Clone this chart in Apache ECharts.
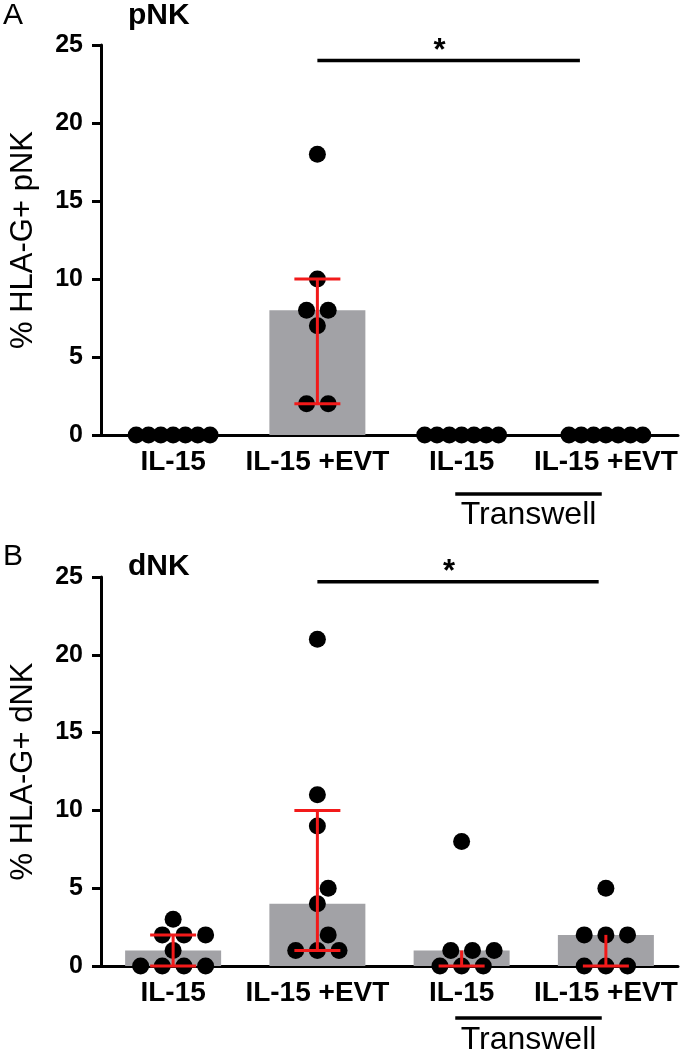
<!DOCTYPE html>
<html><head><meta charset="utf-8">
<script src="https://cdn.jsdelivr.net/npm/echarts@6/dist/echarts.min.js"></script>
<style>html,body{margin:0;padding:0;background:#fff}#c{width:680px;height:1051px}</style>
</head><body><div id="c"></div>
<script>
// ---------- data ----------
const categories = ['IL-15', 'IL-15 +EVT', 'IL-15', 'IL-15 +EVT'];
const pnkIL15      = [0, 0, 0, 0, 0, 0, 0];
const pnkIL15EVT   = [18, 10, 8, 8, 7, 2, 2];
const pnkTwIL15    = [0, 0, 0, 0, 0, 0, 0];
const pnkTwIL15EVT = [0, 0, 0, 0, 0, 0, 0];
const dnkIL15      = [3, 2, 2, 2, 1, 0, 0, 0, 0];
const dnkIL15EVT   = [21, 11, 9, 5, 4, 2, 1, 1, 1];
const dnkTwIL15    = [8, 1, 1, 1, 0, 0, 0];
const dnkTwIL15EVT = [5, 2, 2, 2, 0, 0, 0];
const panelLetters = ['A', 'B'];
const panelTitles = ['pNK', 'dNK'];
const yTitles = ['% HLA-G+ pNK', '% HLA-G+ dNK'];
const sigLabel = '*';
const sigFromCat = [1, 1];        // comparison bracket starts at category 1
const sigToX = [3.32, 3.45];      // ends (category-band units)
const sigY = [24, 24.7];
const groupLabel = 'Transwell';
// -----------------------------------------------------

const FONT = 'Liberation Sans, Arial, sans-serif';
const GL = 92, GW = 586;
const grids = [
  { top: 45, h: 390, letterTop: 1, titleTop: 1, lineOff: 59, textOff: 80 },
  { top: 577, h: 389, letterTop: 542, titleTop: 552, lineOff: 52, textOff: 74 }
];
const panels = [
  [pnkIL15, pnkIL15EVT, pnkTwIL15, pnkTwIL15EVT],
  [dnkIL15, dnkIL15EVT, dnkTwIL15, dnkTwIL15EVT]
];
const BAND = GW / 4;
const DOT = 17, STEP = 22, MAXW = 92;

function quant(s, p) {
  const n = s.length, pos = p * (n + 1);
  if (pos <= 1) return s[0];
  if (pos >= n) return s[n - 1];
  const lo = Math.floor(pos), f = pos - lo;
  return s[lo - 1] + f * (s[lo] - s[lo - 1]);
}

function swarm(values, pxY) {
  const s = values.slice().sort((a, b) => a - b);
  const rows = [];
  s.forEach(v => {
    const r = rows[rows.length - 1];
    if (r && (v - r.v0) * pxY < DOT * 0.5) r.vals.push(v);
    else rows.push({ v0: v, vals: [v] });
  });
  const placed = [];
  rows.forEach(r => {
    const n = r.vals.length;
    const sp = n > 1 ? Math.min(STEP, (MAXW - DOT) / (n - 1)) : 0;
    const base = r.vals.map((v, k) => (k - (n - 1) / 2) * sp);
    const shifts = [0, STEP / 2, -STEP / 2, STEP, -STEP, 1.5 * STEP, -1.5 * STEP];
    let chosen = 0;
    for (const sh of shifts) {
      const ok = r.vals.every((v, k) => placed.every(p => {
        const dx = base[k] + sh - p[0], dy = (v - p[1]) * pxY;
        return Math.sqrt(dx * dx + dy * dy) >= DOT - 0.5;
      }));
      if (ok) { chosen = sh; break; }
    }
    r.vals.forEach((v, k) => placed.push([base[k] + chosen, v]));
  });
  return placed;
}

const grid = [], xAxis = [], yAxis = [], series = [];
panels.forEach((groups, pi) => {
  const g = grids[pi];
  grid.push({ left: GL, top: g.top, width: GW, height: g.h, containLabel: false });
  xAxis.push({
    type: 'category', gridIndex: pi, data: categories,
    axisLine: { lineStyle: { color: '#000', width: 3 } },
    axisTick: { alignWithLabel: true, length: 9, lineStyle: { color: '#000', width: 3 } },
    axisLabel: { color: '#000', fontSize: 28, fontWeight: 'bold', fontFamily: FONT, margin: 13, interval: 0 },
    splitLine: { show: false }
  });
  xAxis.push({ type: 'value', gridIndex: pi, min: 0, max: 4, show: false });
  yAxis.push({
    type: 'value', gridIndex: pi, min: 0, max: 25, interval: 5,
    name: yTitles[pi], nameLocation: 'middle', nameGap: 62, nameRotate: 90,
    nameTextStyle: { color: '#000', fontSize: 31, fontFamily: FONT },
    axisLine: { show: true, lineStyle: { color: '#000', width: 3 } },
    axisTick: { show: true, length: 9, lineStyle: { color: '#000', width: 3 } },
    axisLabel: { color: '#000', fontSize: 25, fontWeight: 'bold', fontFamily: FONT, margin: 18 },
    splitLine: { show: false }
  });
  const pxY = g.h / 25;
  const medians = [], errs = [], pts = [];
  groups.forEach((vals, ci) => {
    const s = vals.slice().sort((a, b) => a - b);
    const md = quant(s, 0.5), q1 = quant(s, 0.25), q3 = quant(s, 0.75);
    medians.push(md);
    errs.push([ci + 0.5, q1, q3, md]);
    swarm(vals, pxY).forEach(p => pts.push([ci + 0.5 + p[0] / BAND, p[1]]));
  });
  series.push({
    type: 'bar', xAxisIndex: pi * 2, yAxisIndex: pi, data: medians,
    barWidth: 96, itemStyle: { color: '#a2a2a6' }, z: 1, silent: true
  });
  series.push({
    type: 'scatter', xAxisIndex: pi * 2 + 1, yAxisIndex: pi, data: pts,
    symbol: 'circle', symbolSize: DOT, itemStyle: { color: '#000', opacity: 1 }, z: 3, silent: true
  });
  series.push({
    type: 'custom', xAxisIndex: pi * 2 + 1, yAxisIndex: pi, data: errs, z: 4, silent: true,
    renderItem: (params, api) => {
      const x = api.value(0), lo = api.value(1), hi = api.value(2), md = api.value(3);
      if (hi === lo) return null;
      const a = api.coord([x, lo]), b = api.coord([x, hi]);
      const st = { stroke: '#f21a1a', lineWidth: 3 };
      const ch = [{ type: 'line', shape: { x1: a[0], y1: a[1], x2: b[0], y2: b[1] }, style: st }];
      if (lo < md) ch.push({ type: 'line', shape: { x1: a[0] - 23, y1: a[1], x2: a[0] + 23, y2: a[1] }, style: st });
      if (hi > md) ch.push({ type: 'line', shape: { x1: b[0] - 23, y1: b[1], x2: b[0] + 23, y2: b[1] }, style: st });
      return { type: 'group', children: ch };
    }
  });
  series.push({
    type: 'custom', xAxisIndex: pi * 2 + 1, yAxisIndex: pi, z: 5, silent: true,
    data: [[sigFromCat[pi] + 0.5, sigToX[pi], sigY[pi]]],
    renderItem: (params, api) => {
      const a = api.coord([api.value(0), api.value(2)]), b = api.coord([api.value(1), api.value(2)]);
      return { type: 'group', children: [
        { type: 'line', shape: { x1: a[0], y1: a[1], x2: b[0], y2: b[1] }, style: { stroke: '#000', lineWidth: 3.5 } },
        { type: 'text', style: { text: sigLabel, x: (a[0] + b[0]) / 2 - 9, y: a[1] - 9, textAlign: 'center', textVerticalAlign: 'middle',
          fill: '#000', fontSize: 31, fontWeight: 'bold', fontFamily: FONT } }
      ] };
    }
  });
});

const graphic = [];
panels.forEach((groups, pi) => {
  const g = grids[pi];
  const axisY = g.top + g.h;
  graphic.push({ type: 'text', left: 3, top: g.letterTop,
    style: { text: panelLetters[pi], fontSize: 30, fontFamily: FONT, fill: '#000' } });
  graphic.push({ type: 'text', left: 128, top: g.titleTop,
    style: { text: panelTitles[pi], fontSize: 30, fontWeight: 'bold', fontFamily: FONT, fill: '#000' } });
  const x0 = GL + BAND * 2.5 - 3, x1 = GL + BAND * 3.5 - 3;
  graphic.push({ type: 'line', shape: { x1: x0, y1: axisY + g.lineOff, x2: x1, y2: axisY + g.lineOff }, style: { stroke: '#000', lineWidth: 3.5 } });
  graphic.push({ type: 'text', x: (x0 + x1) / 2, y: axisY + g.textOff,
    style: { text: groupLabel, fontSize: 32, fontFamily: FONT, fill: '#000', textAlign: 'center', textVerticalAlign: 'middle' } });
});

const chart = echarts.init(document.getElementById('c'), null, { renderer: 'canvas' });
chart.setOption({ animation: false, backgroundColor: '#fff', grid, xAxis, yAxis, series, graphic });
</script></body></html>
